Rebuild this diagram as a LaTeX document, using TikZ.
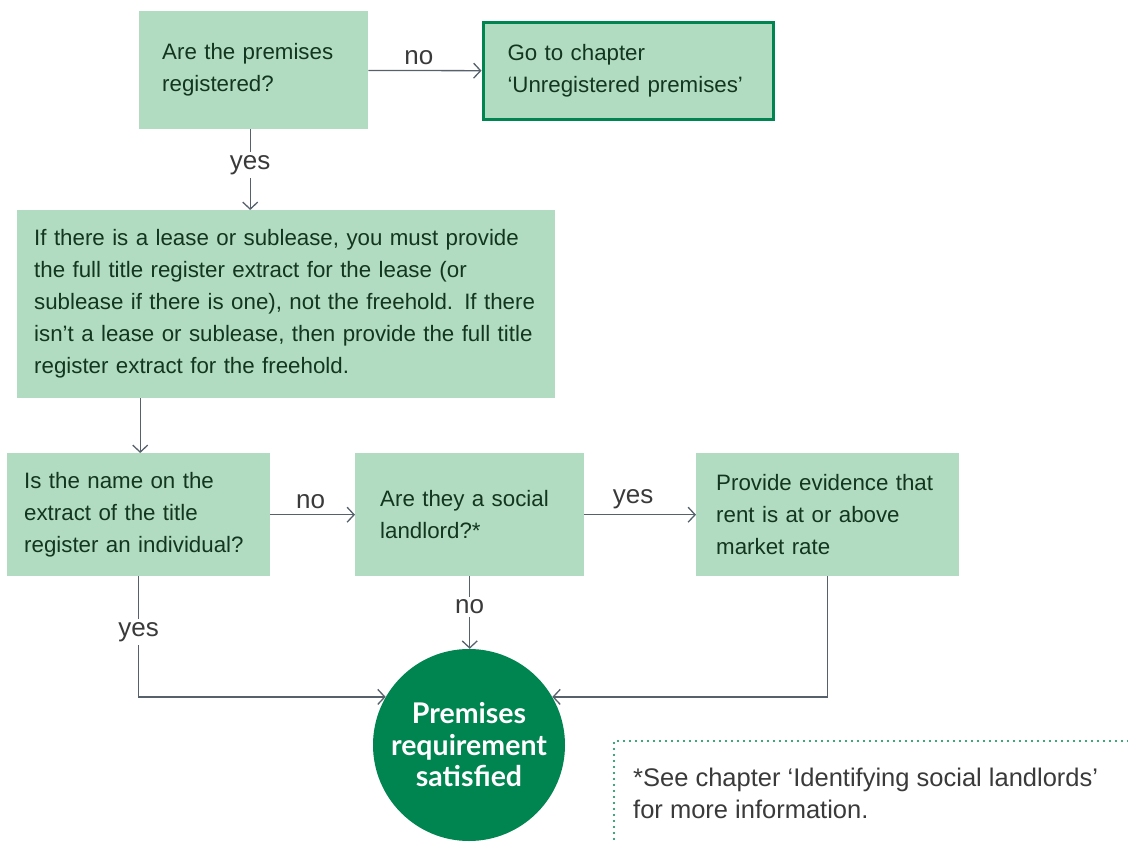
\documentclass[tikz,border=0pt]{standalone}
\usepackage{fontspec}
\setmainfont{Liberation Sans}
\newfontfamily\circfont{Lato}
\usetikzlibrary{arrows.meta}
\definecolor{boxfill}{HTML}{B2DCC2}
\definecolor{dkgreen}{HTML}{008450}
\definecolor{boxtext}{HTML}{12361F}
\definecolor{linecol}{HTML}{56616C}
\definecolor{labcol}{HTML}{3A3A3A}
\begin{document}
\begin{tikzpicture}[x=1pt,y=-1pt,
  box/.style={fill=boxfill, draw=none, anchor=north west, align=left, text=boxtext,
    font=\fontsize{22.3}{32}\selectfont, inner ysep=0pt},
  arr/.style={draw=linecol, line width=1.3pt, -{Straight Barb[length=7pt,width=15pt,line width=1.3pt]}},
  lab/.style={text=labcol, font=\fontsize{26}{28}\selectfont, inner sep=2pt},
  labw/.style={lab, fill=white, inner xsep=1pt, inner ysep=3pt}]
\path[use as bounding box] (0,0) rectangle (1128,843);

\node[box, minimum width=229pt, minimum height=118pt, inner xsep=23pt, text width=183pt] (A) at (139,11)
  {Are the premises\\registered?};
\node[box, draw=dkgreen, line width=3pt, minimum width=290pt, minimum height=96pt, inner xsep=24.5pt, text width=241pt] (B) at (481.5,21.5)
  {Go to chapter\\‘Unregistered premises’};
\node[box, minimum width=538pt, minimum height=188pt, inner xsep=17pt, text width=504pt] (C) at (17,210)
  {If there is a lease or sublease, you must provide\\the full title register extract for the lease (or\\sublease if there is one), not the freehold. If there\\isn’t a lease or sublease, then provide the full title\\register extract for the freehold.};
\node[box, minimum width=263pt, minimum height=123pt, inner xsep=17pt, text width=229pt] (D) at (7,453)
  {Is the name on the\\extract of the title\\register an individual?};
\node[box, minimum width=229pt, minimum height=123pt, inner xsep=25pt, text width=179pt] (E) at (355,453)
  {Are they a social\\landlord?*};
\node[box, minimum width=263pt, minimum height=123pt, inner xsep=20pt, text width=223pt] (F) at (696,453)
  {Provide evidence that\\rent is at or above\\market rate};
\node[circle, fill=dkgreen, text=white, minimum size=192pt, inner sep=0pt, align=center,
  font=\circfont\bfseries\fontsize{28.5}{31.5}\selectfont] (circ) at (469,745)
  {Premises\\requirement\\satisfied};

\draw[arr] (A) -- node[lab, above=3pt, xshift=-6pt] (l1) {no} (B);
\draw[arr] ([xshift=-3.5pt]A.south) -- node[labw, pos=0.44] (l2) {yes} ([xshift=-3.5pt]A.south |- C.north);
\draw[arr] ([xshift=1.5pt]D.north |- C.south) -- ([xshift=1.5pt]D.north);
\draw[arr] (D) -- node[lab, above=3pt, xshift=-2pt] (l3) {no} (E);
\draw[arr] (E) -- node[lab, above=3pt, xshift=-7pt] (l4) {yes} (F);
\draw[arr] (E.south) -- node[labw, pos=0.42] (l5) {no} (E.south |- circ.north);
\draw[arr] (D.south) |- node[labw, pos=0.23] (l6) {yes} (circ.150);
\draw[arr] (F.south) |- (circ.30);

\draw[dkgreen, line width=2.2pt, line cap=round, dash pattern=on 0pt off 6pt]
  (1128,741) -- (614,741) -- (614,843);
\node[anchor=west, align=left, text=labcol, font=\fontsize{25.5}{32}\selectfont, inner sep=0pt] (note) at (633,793)
  {*See chapter ‘Identifying social landlords’\\for more information.};
\end{tikzpicture}
\end{document}
